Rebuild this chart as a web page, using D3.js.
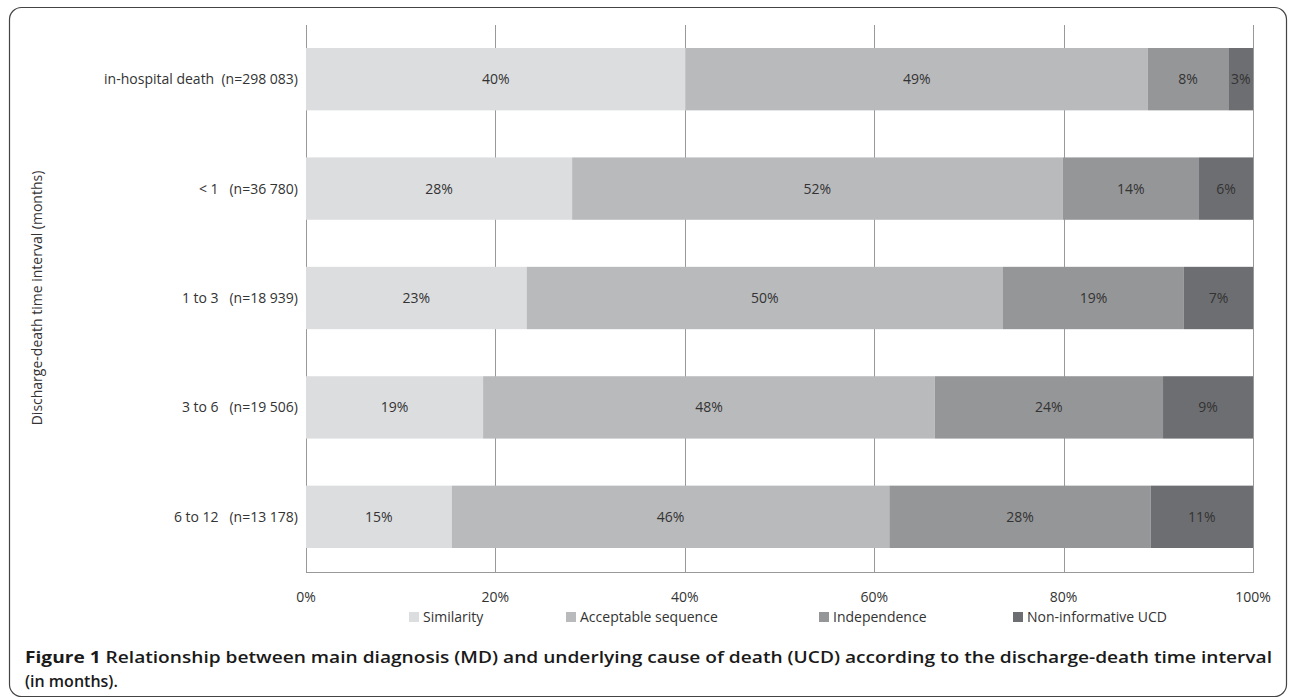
<!DOCTYPE html>
<html><head><meta charset="utf-8">
<script src="https://cdn.jsdelivr.net/npm/d3@7"></script>
<style>body{margin:0;background:#fff;font-family:"Open Sans",Arial,sans-serif}</style>
</head><body><div id="chart"></div>
<script>
var categories = ["in-hospital death  (n=298 083)", "< 1   (n=36 780)", "1 to 3   (n=18 939)", "3 to 6   (n=19 506)", "6 to 12   (n=13 178)"];
var series = ["Similarity", "Acceptable sequence", "Independence", "Non-informative UCD"];
var similarity = [40.1, 28.1, 23.3, 18.7, 15.4];
var acceptable = [48.8, 51.8, 50.3, 47.7, 46.2];
var independence = [8.5, 14.4, 19.1, 24.1, 27.6];
var noninformative = [2.6, 5.7, 7.3, 9.5, 10.8];
var labels = [["40%","49%","8%","3%"],["28%","52%","14%","6%"],["23%","50%","19%","7%"],["19%","48%","24%","9%"],["15%","46%","28%","11%"]];
var ticks = [0, 20, 40, 60, 80, 100];
var colors = ["#dcdddf", "#b9babc", "#959698", "#6d6e71"];

var svg = d3.select("#chart").append("svg").attr("width", 1295).attr("height", 700);
svg.append("rect").attr("x", 9.5).attr("y", 7.5).attr("width", 1277).attr("height", 689)
   .attr("rx", 12).attr("fill", "none").attr("stroke", "#444").attr("stroke-width", 1.2);

var x = d3.scaleLinear().domain([0, 100]).range([306, 1253]);
var y = d3.scaleBand().domain(categories).range([48, 548]).paddingInner(0.43).paddingOuter(0);

// gridlines and axis lines
svg.selectAll(".grid").data(ticks).enter().append("line")
   .attr("x1", d => Math.round(x(d)) + 0.5).attr("x2", d => Math.round(x(d)) + 0.5)
   .attr("y1", 25).attr("y2", 572)
   .attr("stroke", "#999").attr("stroke-width", 1);
svg.append("line").attr("x1", 306).attr("x2", 1254).attr("y1", 572.5).attr("y2", 572.5)
   .attr("stroke", "#999");

var rows = categories.map(function(c, i) {
    var vals = [similarity[i], acceptable[i], independence[i], noninformative[i]];
    var tot = d3.sum(vals), acc = 0;
    return vals.map(function(v, j) {
        var s = { cat: c, x0: acc / tot * 100, x1: (acc + v) / tot * 100, j: j, label: labels[i][j] };
        acc += v; return s;
    });
});
var segs = rows.flat();

svg.selectAll(".seg").data(segs).enter().append("rect")
   .attr("x", d => x(d.x0)).attr("width", d => x(d.x1) - x(d.x0))
   .attr("y", d => y(d.cat)).attr("height", y.bandwidth())
   .attr("fill", d => colors[d.j]);
svg.selectAll(".lab").data(segs).enter().append("text")
   .attr("x", d => (x(d.x0) + x(d.x1)) / 2).attr("y", d => y(d.cat) + y.bandwidth() / 2 + 5)
   .attr("text-anchor", "middle").attr("font-size", 14).attr("fill", "#333").text(d => d.label);

svg.selectAll(".cat").data(categories).enter().append("text")
   .attr("x", 298).attr("y", d => y(d) + y.bandwidth() / 2 + 5)
   .attr("text-anchor", "end").attr("font-size", 14).attr("fill", "#333")
   .style("white-space", "pre").attr("xml:space", "preserve").text(d => d);

svg.selectAll(".tick").data(ticks).enter().append("text")
   .attr("x", d => x(d)).attr("y", 602).attr("text-anchor", "middle")
   .attr("font-size", 14).attr("fill", "#333").text(d => d + "%");

svg.append("text").attr("transform", "translate(42,298) rotate(-90)")
   .attr("text-anchor", "middle").attr("font-size", 14).attr("fill", "#333")
   .text("Discharge-death time interval (months)");

var legX = [409, 566, 819, 1013];
series.forEach(function(s, i) {
    svg.append("rect").attr("x", legX[i]).attr("y", 612).attr("width", 10).attr("height", 10).attr("fill", colors[i]);
    svg.append("text").attr("x", legX[i] + 14).attr("y", 622).attr("font-size", 14).attr("fill", "#333").text(s);
});

var cap = svg.append("text").attr("x", 25).attr("y", 663).attr("font-size", 16).attr("font-weight", "bold")
   .attr("fill", "#1a1a1a").attr("textLength", 1247).attr("lengthAdjust", "spacingAndGlyphs");
cap.append("tspan").text("Figure 1 ");
cap.append("tspan").attr("font-weight", "600").text("Relationship between main diagnosis (MD) and underlying cause of death (UCD) according to the discharge-death time interval");
svg.append("text").attr("x", 25).attr("y", 687).attr("font-size", 16).attr("font-weight", "600").attr("fill", "#1a1a1a").text("(in months).");
</script></body></html>
